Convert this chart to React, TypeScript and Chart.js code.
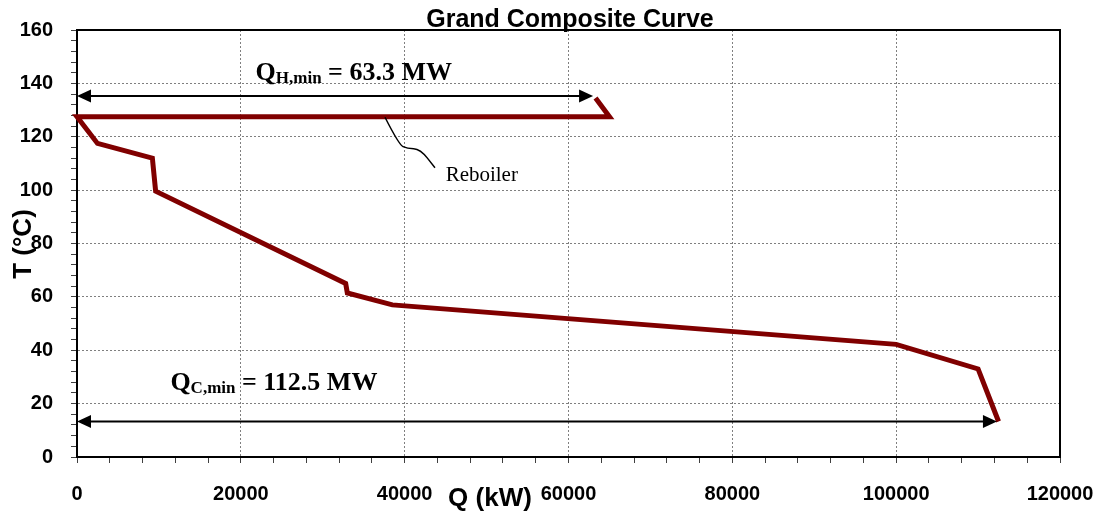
import React, { useEffect, useRef } from "react";
import { Chart, registerables } from "chart.js";

Chart.register(...registerables);

// Grand composite curve (Q in kW, T in °C)
const gccQ = [63300, 65000, 0, 2500, 9200, 9600, 32800, 33000, 38500, 100000, 110000, 112500];
const gccT = [134.5, 127.5, 127.5, 117.5, 112, 99.6, 65, 61.5, 57, 42.2, 33, 13.3];

// Axis ranges / ticks
const xMin = 0, xMax = 120000, xMinorStep = 4000, xMajorStep = 20000;
const yMin = 0, yMax = 160, yMinorStep = 4, yMajorStep = 20;

// Annotations (data coordinates)
const qhArrowQ = [0, 63000];
const qhArrowT = 135.3;
const qcArrowQ = [0, 112300];
const qcArrowT = 13.3;
const qhLabelPos = [21800, 141.3];
const qcLabelPos = [11400, 25.2];
const qhLabelParts = ["Q", "H,min", " = 63.3 MW"];
const qcLabelParts = ["Q", "C,min", " = 112.5 MW"];
const leaderQ = [37600, 39300, 40300, 41900, 43700];
const leaderT = [127.3, 117, 115.6, 115.4, 108.4];
const reboilerPos = [45000, 103.5];
const reboilerText = "Reboiler";

const titleText = "Grand Composite Curve";
const xTitle = "Q (kW)";
const yTitle = "T (°C)";

const SANS = '"Liberation Sans", Arial, sans-serif';
const SERIF = '"Liberation Serif", "Times New Roman", serif';

const annotPlugin = {
  id: "annot",
  beforeDatasetsDraw(chart: any) {
    const { ctx, chartArea } = chart;
    ctx.save();
    ctx.strokeStyle = "#000";
    ctx.lineWidth = 2;
    ctx.beginPath();
    ctx.moveTo(chartArea.left, chartArea.top);
    ctx.lineTo(chartArea.right, chartArea.top);
    ctx.lineTo(chartArea.right, chartArea.bottom);
    ctx.stroke();
    ctx.restore();
  },
  afterDatasetsDraw(chart: any) {
    const { ctx } = chart;
    const xs = chart.scales.x;
    const ys = chart.scales.y;
    const px = (v: number) => xs.getPixelForValue(v);
    const py = (v: number) => ys.getPixelForValue(v);
    ctx.save();

    const arrow = (q: number[], t: number) => {
      const x0 = px(q[0]);
      const x1 = px(q[1]);
      const y = py(t);
      const L = 14, H = 6.5;
      ctx.strokeStyle = "#000";
      ctx.fillStyle = "#000";
      ctx.lineWidth = 2;
      ctx.beginPath();
      ctx.moveTo(x0 + L - 1, y);
      ctx.lineTo(x1 - L + 1, y);
      ctx.stroke();
      ctx.beginPath();
      ctx.moveTo(x0, y);
      ctx.lineTo(x0 + L, y - H);
      ctx.lineTo(x0 + L, y + H);
      ctx.closePath();
      ctx.fill();
      ctx.beginPath();
      ctx.moveTo(x1, y);
      ctx.lineTo(x1 - L, y - H);
      ctx.lineTo(x1 - L, y + H);
      ctx.closePath();
      ctx.fill();
    };
    arrow(qhArrowQ, qhArrowT);
    arrow(qcArrowQ, qcArrowT);

    const subLabel = (pos: number[], parts: string[]) => {
      let x = px(pos[0]);
      const y = py(pos[1]);
      ctx.fillStyle = "#000";
      ctx.textAlign = "left";
      ctx.textBaseline = "alphabetic";
      ctx.font = `bold 26px ${SERIF}`;
      ctx.fillText(parts[0], x, y);
      x += ctx.measureText(parts[0]).width;
      ctx.font = `bold 17px ${SERIF}`;
      ctx.fillText(parts[1], x, y + 3);
      x += ctx.measureText(parts[1]).width;
      ctx.font = `bold 26px ${SERIF}`;
      ctx.fillText(parts[2], x, y);
    };
    subLabel(qhLabelPos, qhLabelParts);
    subLabel(qcLabelPos, qcLabelParts);

    // leader line to "Reboiler"
    ctx.strokeStyle = "#000";
    ctx.lineWidth = 1.5;
    ctx.beginPath();
    const pts = leaderQ.map((q, i) => [px(q), py(leaderT[i])]);
    ctx.moveTo(pts[0][0], pts[0][1]);
    for (let i = 1; i < pts.length - 1; i++) {
      const mx = (pts[i][0] + pts[i + 1][0]) / 2;
      const my = (pts[i][1] + pts[i + 1][1]) / 2;
      ctx.quadraticCurveTo(pts[i][0], pts[i][1], mx, my);
    }
    ctx.lineTo(pts[pts.length - 1][0], pts[pts.length - 1][1]);
    ctx.stroke();

    ctx.font = `21px ${SERIF}`;
    ctx.fillStyle = "#000";
    ctx.textAlign = "left";
    ctx.fillText(reboilerText, px(reboilerPos[0]), py(reboilerPos[1]));

    // Title
    ctx.font = `bold 25px ${SANS}`;
    ctx.textAlign = "center";
    ctx.textBaseline = "alphabetic";
    ctx.fillText(titleText, 570, 27);

    // Axis titles
    ctx.font = `bold 26px ${SANS}`;
    ctx.textBaseline = "middle";
    ctx.fillText(xTitle, 490, 499);
    ctx.save();
    ctx.translate(24, 244);
    ctx.rotate(-Math.PI / 2);
    ctx.fillText(yTitle, 0, 0);
    ctx.restore();

    ctx.restore();
  },
};

export default function App() {
  const ref = useRef<HTMLCanvasElement | null>(null);
  useEffect(() => {
    if (!ref.current) return;
    const gridColor = (step: number) => (c: any) =>
      c.tick && Math.round(c.tick.value) % step === 0 ? "#7f7f7f" : "rgba(0,0,0,0)";
    const chart = new Chart(ref.current, {
      type: "scatter",
      data: {
        datasets: [
          {
            data: gccQ.map((q, i) => ({ x: q, y: gccT[i] })),
            showLine: true,
            borderColor: "#800000",
            backgroundColor: "#800000",
            borderWidth: 5,
            pointRadius: 0,
            tension: 0,
            borderJoinStyle: "miter",
            clip: false,
          } as any,
        ],
      },
      options: {
        animation: false,
        responsive: false,
        events: [],
        layout: { padding: { top: 30, right: 40, left: 0, bottom: 0 } },
        plugins: { legend: { display: false }, tooltip: { enabled: false }, title: { display: false } },
        scales: {
          x: {
            type: "linear",
            min: xMin,
            max: xMax,
            afterFit: (s: any) => {
              s.height = 59;
              s.paddingLeft = 0;
              s.paddingRight = 0;
            },
            ticks: {
              stepSize: xMinorStep,
              autoSkip: false,
              maxRotation: 0,
              padding: 19,
              color: "#000",
              font: { family: SANS, size: 20, weight: "bold" },
              callback: (v: any) => (Math.round(v) % xMajorStep === 0 ? String(v) : ""),
            },
            grid: {
              color: gridColor(xMajorStep),
              tickColor: "#404040",
              tickLength: 6,
              tickWidth: 1,
              tickBorderDash: [],
              lineWidth: 1,
            },
            border: { display: true, color: "#000", width: 2, dash: [2, 2] },
          },
          y: {
            type: "linear",
            min: yMin,
            max: yMax,
            afterFit: (s: any) => {
              s.width = 77;
              s.paddingTop = 0;
              s.paddingBottom = 0;
            },
            ticks: {
              stepSize: yMinorStep,
              autoSkip: false,
              padding: 18,
              color: "#000",
              font: { family: SANS, size: 20, weight: "bold" },
              callback: (v: any) => (Math.round(v) % yMajorStep === 0 ? String(v) : ""),
            },
            grid: {
              color: gridColor(yMajorStep),
              tickColor: "#404040",
              tickLength: 6,
              tickWidth: 1,
              tickBorderDash: [],
              lineWidth: 1,
            },
            border: { display: true, color: "#000", width: 2, dash: [2, 2] },
          },
        },
      } as any,
      plugins: [annotPlugin],
    });
    return () => chart.destroy();
  }, []);
  return (
    <div style={{ position: "fixed", left: 0, top: 0, width: 1100, height: 516, background: "#fff" }}>
      <canvas ref={ref} width={1100} height={516} style={{ display: "block", width: 1100, height: 516 }} />
    </div>
  );
}
